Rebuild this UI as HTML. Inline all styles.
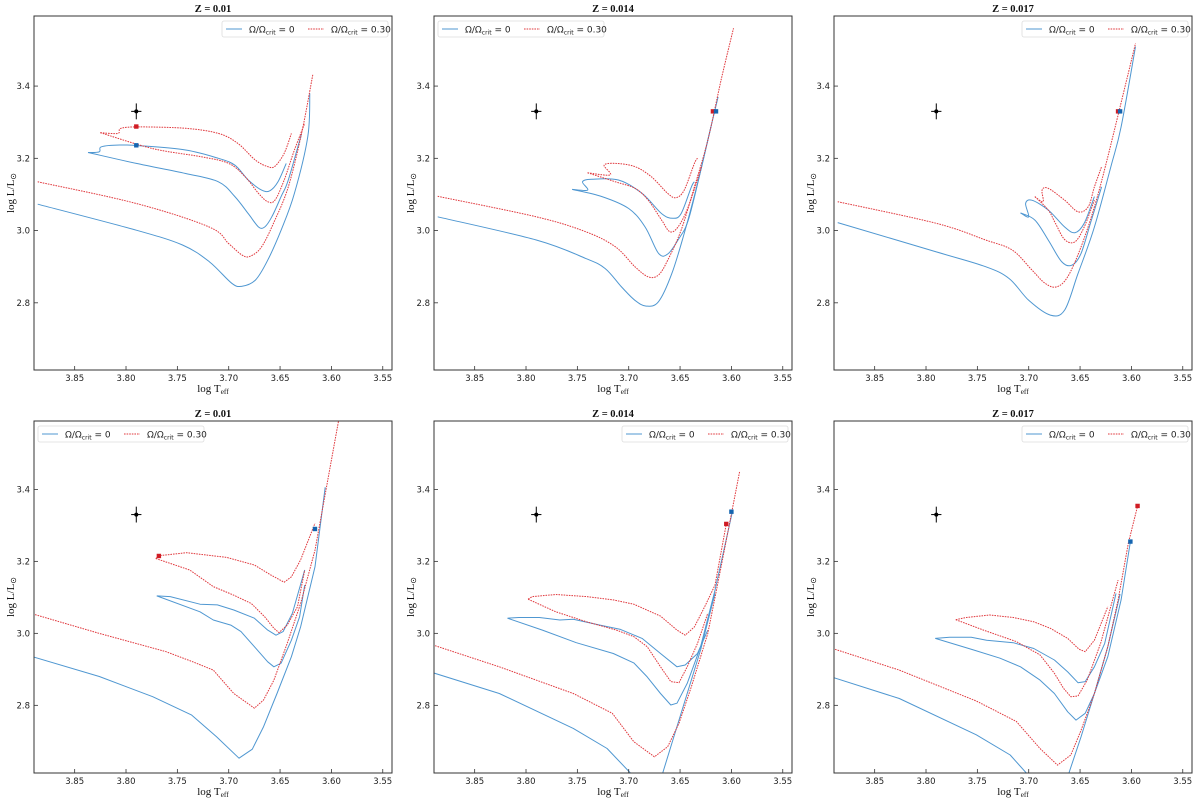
<!DOCTYPE html>
<html><head><meta charset="utf-8">
<style>
html,body{margin:0;padding:0;background:#fff;}
svg{display:block;}
.tk{font-family:"DejaVu Sans","Liberation Sans",sans-serif;font-size:8.5px;fill:#222;}
.ttl{font-family:"Liberation Serif",serif;font-size:10.5px;font-weight:bold;fill:#111;}
.lab{font-family:"Liberation Serif",serif;font-size:11px;fill:#111;}
.lg{font-family:"DejaVu Sans","Liberation Sans",sans-serif;font-size:9px;fill:#222;}
</style></head>
<body>
<svg id="fig" width="1200" height="803" viewBox="0 0 1200 803" xmlns="http://www.w3.org/2000/svg"></svg>
<script>
// ---- data (logTeff, logL) ----
const titles = ["Z = 0.01","Z = 0.014","Z = 0.017","Z = 0.01","Z = 0.014","Z = 0.017"];
const legendSide = ["right","left","right","left","right","right"];
const xTicks = [3.85,3.80,3.75,3.70,3.65,3.60,3.55];
const yTicks = [2.8,3.0,3.2,3.4];
const starT = 3.79, starL = 3.33, starErrT = 0.005, starErrL = 0.022;

// panel 1
const p1BlueA=[[3.886,3.073],[3.79,3.001],[3.745,2.96],[3.719,2.914],[3.697,2.854],[3.687,2.846],[3.674,2.863],[3.662,2.918],[3.649,3.001],[3.636,3.103],[3.623,3.26],[3.621,3.38]];
const p1RedA=[[3.886,3.135],[3.79,3.075],[3.719,3.01],[3.7,2.964],[3.687,2.932],[3.679,2.929],[3.668,2.955],[3.655,3.029],[3.642,3.121],[3.629,3.269],[3.618,3.433]];
const p1BlueLo=[[3.837,3.216],[3.79,3.186],[3.742,3.158],[3.71,3.135],[3.694,3.094],[3.681,3.047],[3.671,3.01],[3.665,3.01],[3.658,3.038],[3.649,3.094],[3.642,3.14],[3.629,3.269]];
const p1BlueHi=[[3.837,3.216],[3.826,3.218],[3.824,3.232],[3.806,3.237],[3.787,3.235],[3.742,3.223],[3.71,3.2],[3.694,3.181],[3.681,3.14],[3.668,3.112],[3.66,3.11],[3.652,3.135],[3.644,3.186]];
const p1RedLo=[[3.825,3.271],[3.774,3.227],[3.726,3.204],[3.7,3.186],[3.684,3.149],[3.671,3.103],[3.662,3.08],[3.655,3.084],[3.646,3.14],[3.636,3.223],[3.626,3.297]];
const p1RedHi=[[3.825,3.271],[3.808,3.269],[3.805,3.283],[3.787,3.287],[3.742,3.283],[3.71,3.269],[3.691,3.241],[3.674,3.195],[3.662,3.177],[3.655,3.178],[3.646,3.214],[3.639,3.269]];
const p1Marks=[[3.79,3.288,"red"],[3.79,3.236,"blue"]];
// panel 2
const p2BlueA=[[3.886,3.038],[3.79,2.974],[3.742,2.923],[3.723,2.895],[3.707,2.844],[3.694,2.807],[3.683,2.791],[3.671,2.803],[3.658,2.881],[3.646,2.992],[3.633,3.13],[3.623,3.25],[3.613,3.37]];
const p2RedA=[[3.886,3.095],[3.79,3.038],[3.742,2.997],[3.713,2.955],[3.694,2.9],[3.681,2.872],[3.671,2.877],[3.662,2.918],[3.649,3.001],[3.636,3.121],[3.623,3.25],[3.61,3.417],[3.598,3.56]];
const p2BlueLo=[[3.755,3.114],[3.726,3.094],[3.7,3.061],[3.684,3.01],[3.671,2.937],[3.662,2.935],[3.652,2.974],[3.642,3.029],[3.629,3.177],[3.62,3.287]];
const p2BlueHi=[[3.755,3.114],[3.74,3.112],[3.745,3.135],[3.736,3.142],[3.71,3.14],[3.687,3.103],[3.668,3.047],[3.657,3.034],[3.649,3.047],[3.639,3.121],[3.636,3.135]];
const p2RedLo=[[3.74,3.16],[3.713,3.135],[3.694,3.117],[3.681,3.084],[3.668,3.029],[3.66,2.997],[3.652,3.01],[3.642,3.066],[3.629,3.177]];
const p2RedHi=[[3.74,3.16],[3.718,3.154],[3.724,3.181],[3.713,3.186],[3.694,3.177],[3.678,3.149],[3.662,3.103],[3.654,3.091],[3.646,3.112],[3.636,3.186],[3.633,3.2]];
const p2Marks=[[3.618,3.33,"red"],[3.615,3.33,"blue"]];
// panel 3
const p3BlueA=[[3.886,3.022],[3.79,2.941],[3.742,2.9],[3.719,2.867],[3.7,2.807],[3.679,2.766],[3.665,2.78],[3.652,2.881],[3.636,3.01],[3.62,3.177],[3.61,3.287],[3.596,3.509]];
const p3RedA=[[3.886,3.08],[3.79,3.02],[3.742,2.974],[3.716,2.946],[3.697,2.891],[3.684,2.854],[3.673,2.844],[3.662,2.872],[3.649,2.955],[3.636,3.066],[3.623,3.204],[3.596,3.518]];
const p3BlueLo=[[3.708,3.049],[3.694,3.029],[3.681,2.974],[3.668,2.914],[3.658,2.904],[3.649,2.937],[3.639,3.029],[3.629,3.121]];
const p3BlueHi=[[3.708,3.049],[3.7,3.038],[3.703,3.075],[3.697,3.084],[3.681,3.057],[3.665,3.01],[3.655,2.994],[3.646,3.02],[3.636,3.094]];
const p3RedLo=[[3.694,3.094],[3.681,3.057],[3.674,3.02],[3.665,2.975],[3.655,2.969],[3.646,3.01],[3.636,3.084]];
const p3RedHi=[[3.694,3.094],[3.686,3.08],[3.687,3.112],[3.681,3.117],[3.665,3.084],[3.652,3.052],[3.642,3.066],[3.636,3.121],[3.629,3.177]];
const p3Marks=[[3.613,3.33,"red"],[3.611,3.33,"blue"]];
// panel 4
const p4BlueA=[[3.891,2.935],[3.826,2.88],[3.774,2.824],[3.736,2.773],[3.712,2.713],[3.69,2.653],[3.677,2.678],[3.666,2.741],[3.653,2.833],[3.639,2.935],[3.63,3.018],[3.616,3.185],[3.606,3.406]];
const p4RedA=[[3.891,3.054],[3.826,3.0],[3.761,2.949],[3.735,2.921],[3.715,2.898],[3.695,2.833],[3.675,2.792],[3.666,2.815],[3.656,2.87],[3.643,2.972],[3.63,3.083],[3.616,3.231],[3.593,3.591]];
const p4BlueLo=[[3.77,3.104],[3.728,3.06],[3.715,3.037],[3.698,3.023],[3.688,3.005],[3.675,2.963],[3.662,2.921],[3.656,2.907],[3.649,2.917],[3.639,2.981],[3.631,3.046],[3.626,3.134]];
const p4BlueHi=[[3.77,3.104],[3.757,3.102],[3.728,3.081],[3.711,3.079],[3.695,3.065],[3.675,3.042],[3.662,3.009],[3.654,2.995],[3.647,3.005],[3.638,3.056],[3.626,3.176]];
const p4RedLo=[[3.771,3.208],[3.738,3.176],[3.715,3.13],[3.695,3.106],[3.678,3.083],[3.665,3.046],[3.656,3.014],[3.651,3.002],[3.643,3.023],[3.633,3.074],[3.626,3.176]];
const p4RedHi=[[3.771,3.208],[3.767,3.216],[3.741,3.224],[3.702,3.211],[3.675,3.19],[3.659,3.162],[3.646,3.142],[3.639,3.157],[3.63,3.204],[3.616,3.306]];
const p4Marks=[[3.768,3.215,"red"],[3.616,3.29,"blue"]];
// panel 5
const p5BlueA=[[3.891,2.891],[3.826,2.833],[3.754,2.736],[3.721,2.68],[3.698,2.611],[3.69,2.58],[3.672,2.58],[3.667,2.611],[3.656,2.713],[3.643,2.833],[3.63,2.954],[3.616,3.111]];
const p5RedA=[[3.891,2.968],[3.826,2.907],[3.754,2.833],[3.716,2.778],[3.695,2.699],[3.675,2.657],[3.662,2.685],[3.651,2.75],[3.639,2.852],[3.623,3.0],[3.61,3.185],[3.592,3.449]];
const p5BlueLo=[[3.818,3.042],[3.784,3.009],[3.751,2.974],[3.715,2.944],[3.695,2.918],[3.682,2.879],[3.669,2.833],[3.659,2.801],[3.653,2.806],[3.643,2.861],[3.63,2.963],[3.616,3.12],[3.599,3.338]];
const p5BlueHi=[[3.818,3.042],[3.807,3.044],[3.787,3.044],[3.767,3.037],[3.754,3.039],[3.728,3.023],[3.708,3.011],[3.687,2.986],[3.669,2.944],[3.653,2.907],[3.645,2.912],[3.633,2.944],[3.623,3.009]];
const p5RedLo=[[3.798,3.095],[3.771,3.06],[3.741,3.032],[3.712,3.009],[3.695,2.991],[3.682,2.963],[3.669,2.907],[3.659,2.866],[3.651,2.863],[3.643,2.907],[3.633,2.972],[3.623,3.056]];
const p5RedHi=[[3.798,3.095],[3.794,3.102],[3.771,3.108],[3.741,3.102],[3.715,3.093],[3.695,3.081],[3.669,3.048],[3.653,3.009],[3.645,2.995],[3.636,3.018],[3.626,3.074],[3.616,3.134],[3.605,3.304]];
const p5Marks=[[3.605,3.304,"red"],[3.6,3.338,"blue"]];
// panel 6
const p6BlueA=[[3.891,2.878],[3.826,2.819],[3.751,2.718],[3.718,2.662],[3.702,2.611],[3.69,2.58],[3.665,2.58],[3.661,2.611],[3.649,2.713],[3.636,2.833],[3.623,2.963],[3.611,3.109]];
const p6RedA=[[3.891,2.958],[3.826,2.898],[3.751,2.812],[3.712,2.755],[3.689,2.68],[3.672,2.634],[3.659,2.662],[3.649,2.731],[3.636,2.833],[3.623,2.963],[3.613,3.093],[3.603,3.25],[3.594,3.354]];
const p6BlueLo=[[3.791,2.986],[3.754,2.954],[3.728,2.931],[3.708,2.907],[3.689,2.87],[3.675,2.833],[3.662,2.782],[3.654,2.759],[3.645,2.778],[3.636,2.833],[3.623,2.935],[3.61,3.093],[3.601,3.255]];
const p6BlueHi=[[3.791,2.986],[3.777,2.989],[3.756,2.989],[3.741,2.981],[3.715,2.974],[3.695,2.958],[3.675,2.926],[3.662,2.893],[3.652,2.863],[3.645,2.866],[3.636,2.907],[3.626,2.972],[3.615,3.111]];
const p6RedLo=[[3.771,3.038],[3.744,3.009],[3.712,2.977],[3.689,2.94],[3.675,2.889],[3.666,2.847],[3.659,2.824],[3.652,2.826],[3.643,2.87],[3.63,2.972],[3.613,3.148]];
const p6RedHi=[[3.771,3.038],[3.761,3.044],[3.738,3.051],[3.715,3.044],[3.695,3.032],[3.679,3.014],[3.662,2.986],[3.651,2.956],[3.645,2.949],[3.636,2.981],[3.623,3.074]];
const p6Marks=[[3.594,3.354,"red"],[3.601,3.255,"blue"]];

const panels=[
 {blue:[p1BlueA,p1BlueLo,p1BlueHi],red:[p1RedA,p1RedLo,p1RedHi],marks:p1Marks},
 {blue:[p2BlueA,p2BlueLo,p2BlueHi],red:[p2RedA,p2RedLo,p2RedHi],marks:p2Marks},
 {blue:[p3BlueA,p3BlueLo,p3BlueHi],red:[p3RedA,p3RedLo,p3RedHi],marks:p3Marks},
 {blue:[p4BlueA,p4BlueLo,p4BlueHi],red:[p4RedA,p4RedLo,p4RedHi],marks:p4Marks},
 {blue:[p5BlueA,p5BlueLo,p5BlueHi],red:[p5RedA,p5RedLo,p5RedHi],marks:p5Marks},
 {blue:[p6BlueA,p6BlueLo,p6BlueHi],red:[p6RedA,p6RedLo,p6RedHi],marks:p6Marks}
];

const NS="http://www.w3.org/2000/svg";
const fig=document.getElementById('fig');
function mk(tag,attrs,parent){const e=document.createElementNS(NS,tag);for(const k in attrs)e.setAttribute(k,attrs[k]);(parent||fig).appendChild(e);return e;}

function smoothPath(P){
  let d='M'+P[0][0].toFixed(1)+','+P[0][1].toFixed(1);
  for(let k=0;k<P.length-1;k++){
    const p0=P[Math.max(0,k-1)],p1=P[k],p2=P[k+1],p3=P[Math.min(P.length-1,k+2)];
    const t=0.5/3;
    const c1=[p1[0]+(p2[0]-p0[0])*t,p1[1]+(p2[1]-p0[1])*t];
    const c2=[p2[0]-(p3[0]-p1[0])*t,p2[1]-(p3[1]-p1[1])*t];
    d+=' C'+c1[0].toFixed(1)+','+c1[1].toFixed(1)+' '+c2[0].toFixed(1)+','+c2[1].toFixed(1)+' '+p2[0].toFixed(1)+','+p2[1].toFixed(1);
  }
  return d;
}

const X0=3.8896, X1=3.541;
const BLUE="#4f97d1", RED="#e0393e";
panels.forEach((p,i)=>{
  const col=i%3,row=Math.floor(i/3);
  const L=34+col*400, R=392+col*400;
  const T=row?421:16, B=row?773:370;
  const Y0=row?2.612:2.614, Y1=row?3.590:3.594;
  const xs=v=>L+(X0-v)/(X0-X1)*(R-L);
  const ys=v=>B-(v-Y0)/(Y1-Y0)*(B-T);
  const g=mk('g',{});
  
  
  const cid='clip'+i;
  const cp=mk('clipPath',{id:cid},g);mk('rect',{x:L,y:T,width:R-L,height:B-T},cp);
  const ttl=mk('text',{x:(L+R)/2,y:T-4,'text-anchor':'middle',class:'ttl'},g);ttl.textContent=titles[i];
  
  
  const plot=mk('g',{'clip-path':'url(#'+cid+')'},g);
  function poly(pts,color,dashed,name){
    const P=pts.map(q=>[xs(q[0]),ys(q[1])]);
    const d=row===0?smoothPath(P):P.map((q,k)=>(k?'L':'M')+q[0].toFixed(1)+','+q[1].toFixed(1)).join(' ');
    const a={d:d,fill:'none',stroke:color,'stroke-width':1,'stroke-linejoin':'round'};
    if(dashed){a['stroke-dasharray']='1.6,1';}
    const e=mk('path',a,plot);
    
    
  }
  p.blue.forEach((t,k)=>poly(t,BLUE,false,'track-nonrotating'));
  p.red.forEach((t,k)=>poly(t,RED,true,'track-rotating'));
  p.marks.forEach(m=>{
    const s=mk('rect',{x:xs(m[0])-2.2,y:ys(m[1])-2.2,width:4.4,height:4.4,fill:m[2]=='red'?'#d01c24':'#1565b0'},plot);
    
    
  });
  const sx=xs(starT),sy=ys(starL);
  const st=mk('g',{},plot);
  
  
  mk('line',{x1:xs(starT+starErrT),x2:xs(starT-starErrT),y1:sy,y2:sy,stroke:'#000','stroke-width':1},st);
  mk('line',{x1:sx,x2:sx,y1:ys(starL+starErrL),y2:ys(starL-starErrL),stroke:'#000','stroke-width':1},st);
  mk('circle',{cx:sx,cy:sy,r:2,fill:'#000'},st);
  const fr=mk('rect',{x:L,y:T,width:R-L,height:B-T,fill:'none',stroke:'#333','stroke-width':1},g);
  
  
  xTicks.forEach(v=>{
    const x=xs(v);
    mk('line',{x1:x,x2:x,y1:B,y2:B-4,stroke:'#333','stroke-width':0.8},g);
    const t=mk('text',{x:x,y:B+11,'text-anchor':'middle',class:'tk'},g);t.textContent=v.toFixed(2);
    
    
  });
  yTicks.forEach(v=>{
    const y=ys(v);
    mk('line',{x1:L,x2:L+4,y1:y,y2:y,stroke:'#333','stroke-width':0.8},g);
    const t=mk('text',{x:L-4,y:y+3,'text-anchor':'end',class:'tk'},g);t.textContent=v.toFixed(1);
    
    
  });
  const xl=mk('text',{x:(L+R)/2,y:B+22,'text-anchor':'middle',class:'lab'},g);
  xl.innerHTML='log T<tspan font-size="7.5" dy="2">eff</tspan>';
  
  
  const yl=mk('text',{x:0,y:0,'text-anchor':'middle',class:'lab',transform:'translate('+(L-20)+','+((T+B)/2)+') rotate(-90)'},g);
  yl.innerHTML='log L/L<tspan font-size="8" dy="2">⊙</tspan>';
  
  
  const lw=166,lh=16;
  const lx=legendSide[i]=='right'?R-4-lw:L+4, ly=T+5;
  const lg=mk('g',{},g);
  
  
  mk('rect',{x:lx,y:ly,width:lw,height:lh,rx:2,fill:'#fff',stroke:'#ddd','stroke-width':0.8},lg);
  mk('line',{x1:lx+4,x2:lx+20,y1:ly+8,y2:ly+8,stroke:BLUE,'stroke-width':1},lg);
  const t1=mk('text',{x:lx+27,y:ly+11.5,class:'lg'},lg);
  t1.innerHTML='Ω/Ω<tspan font-size="6" dy="2">crit</tspan><tspan dy="-2"> = 0</tspan>';
  
  
  mk('line',{x1:lx+86,x2:lx+102,y1:ly+8,y2:ly+8,stroke:RED,'stroke-width':1,'stroke-dasharray':'1.6,1'},lg);
  const t2=mk('text',{x:lx+109,y:ly+11.5,class:'lg'},lg);
  t2.innerHTML='Ω/Ω<tspan font-size="6" dy="2">crit</tspan><tspan dy="-2"> = 0.30</tspan>';
  
  
});
</script>
</body></html>
